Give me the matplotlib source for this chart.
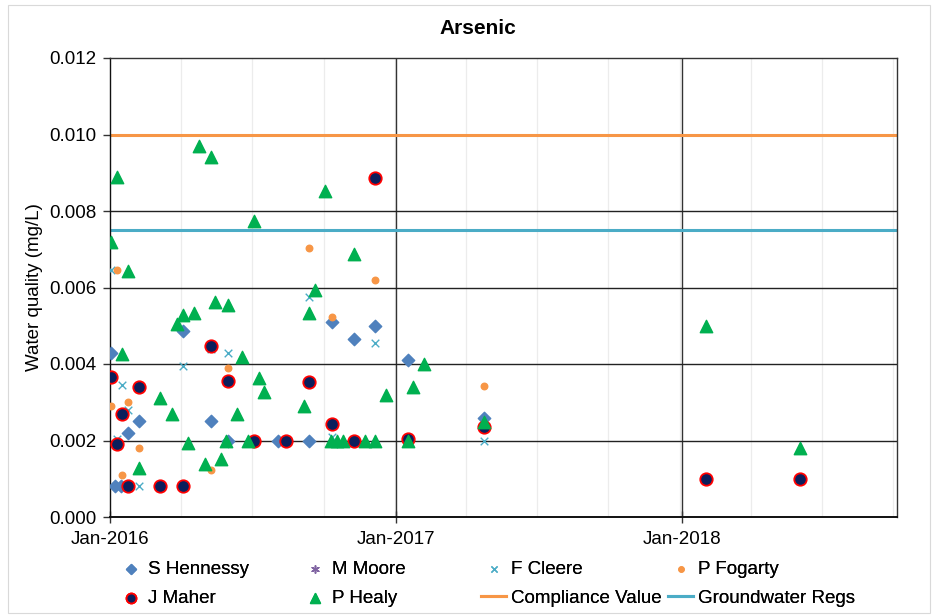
"""
Arsenic results by sampling location, with the compliance value and the
groundwater regulation limit drawn across the whole period.
"""

import matplotlib

matplotlib.use("Agg")
import matplotlib.dates as mdates  # noqa: E402
import matplotlib.pyplot as plt  # noqa: E402
import numpy as np  # noqa: E402
from matplotlib.patches import Rectangle  # noqa: E402

plt.rcParams["font.family"] = ["Liberation Sans", "DejaVu Sans"]

# --------------------------------------------------------------------------- #
# Data (mg/L)
# --------------------------------------------------------------------------- #
hennessy_dates = ["2016-01-02", "2016-01-07", "2016-01-15", "2016-01-24",
                  "2016-02-07", "2016-04-03", "2016-05-09", "2016-05-31",
                  "2016-08-03", "2016-09-11", "2016-10-11", "2016-11-08",
                  "2016-12-05", "2017-01-16", "2017-04-23"]
hennessy_vals = [0.0043, 0.0008, 0.0008, 0.0022, 0.0025, 0.00485, 0.0025,
                 0.002, 0.002, 0.002, 0.0051, 0.00465, 0.005, 0.0041, 0.0026]

moore_dates = []
moore_vals = []

cleere_dates = ["2016-01-02", "2016-01-10", "2016-01-16", "2016-01-24",
                "2016-02-07", "2016-04-03", "2016-05-09", "2016-05-31",
                "2016-09-11", "2016-10-11", "2016-12-05", "2017-04-23"]
cleere_vals = [0.00645, 0.00205, 0.00345, 0.0028, 0.0008, 0.00395, 0.0044,
               0.0043, 0.00575, 0.0021, 0.00455, 0.002]

fogarty_dates = ["2016-01-02", "2016-01-10", "2016-01-16", "2016-01-24",
                 "2016-02-07", "2016-05-09", "2016-05-31", "2016-09-11",
                 "2016-10-11", "2016-12-05", "2017-04-23"]
fogarty_vals = [0.0029, 0.00645, 0.0011, 0.003, 0.0018, 0.00123, 0.0039,
                0.00703, 0.00523, 0.0062, 0.00342]

maher_dates = ["2016-01-02", "2016-01-10", "2016-01-16", "2016-01-24",
               "2016-02-07", "2016-03-05", "2016-04-03", "2016-05-09",
               "2016-05-31", "2016-07-03", "2016-08-13", "2016-09-11",
               "2016-10-11", "2016-11-08", "2016-12-05", "2017-01-16",
               "2017-04-23", "2018-02-01", "2018-06-01"]
maher_vals = [0.00366, 0.0019, 0.0027, 0.0008, 0.0034, 0.0008, 0.0008,
              0.00447, 0.00356, 0.002, 0.002, 0.00353, 0.00243, 0.002,
              0.00886, 0.00205, 0.00235, 0.001, 0.001]

healy_dates = ["2016-01-02", "2016-01-10", "2016-01-16", "2016-01-24",
               "2016-02-07", "2016-03-05", "2016-03-20", "2016-03-27",
               "2016-04-03", "2016-04-10", "2016-04-17", "2016-04-24",
               "2016-05-01", "2016-05-09", "2016-05-14", "2016-05-22",
               "2016-05-28", "2016-05-31", "2016-06-11", "2016-06-18",
               "2016-06-25", "2016-07-03", "2016-07-09", "2016-07-16",
               "2016-09-05", "2016-09-11", "2016-09-19", "2016-10-02",
               "2016-10-10", "2016-10-17", "2016-10-25", "2016-11-08",
               "2016-11-22", "2016-12-05", "2016-12-19", "2017-01-16",
               "2017-01-22", "2017-02-05", "2017-04-23", "2018-02-01",
               "2018-06-01"]
healy_vals = [0.0072, 0.0089, 0.00426, 0.00643, 0.00128, 0.00311, 0.00269,
              0.00505, 0.00528, 0.00193, 0.00533, 0.0097, 0.00139, 0.0094,
              0.00562, 0.00152, 0.002, 0.00554, 0.00269, 0.00418, 0.002,
              0.00774, 0.00363, 0.00327, 0.0029, 0.00533, 0.00593, 0.00852,
              0.002, 0.002, 0.002, 0.00688, 0.002, 0.002, 0.0032, 0.002,
              0.0034, 0.004, 0.00248, 0.005, 0.0018]

compliance_value = 0.010
groundwater_regs = 0.0075

x_start, x_end = "2016-01-01", "2018-10-03"
year_ticks = ["2016-01-01", "2017-01-01", "2018-01-01"]


def d(dates):
    return np.array(dates, dtype="datetime64[D]")


fig = plt.figure(figsize=(9.4, 6.16), dpi=100)
fig.patches.append(Rectangle((8 / 940, 3 / 616), 922 / 940, 608 / 616,
                             transform=fig.transFigure, fill=False,
                             edgecolor="#d9d9d9", linewidth=0.8))
ax = fig.add_axes([110 / 940, 99 / 616, 787 / 940, 459 / 616])

# gridlines: faint quarterly, dark yearly and every 0.002
quarters = np.arange(np.datetime64(x_start), np.datetime64(x_end),
                     np.timedelta64(91, "D"))
for q in quarters[1:]:
    ax.axvline(q, color="#ececec", linewidth=0.9, zorder=0)
for yt in year_ticks[1:]:
    ax.axvline(np.datetime64(yt), color="#333333", linewidth=1.0, zorder=1)
for yv in np.arange(0.002, 0.012, 0.002):
    ax.axhline(yv, color="#222222", linewidth=1.0, zorder=1)

ax.axhline(compliance_value, color="#f79646", linewidth=2.2, zorder=2,
           label="Compliance Value")
ax.axhline(groundwater_regs, color="#4bacc6", linewidth=2.2, zorder=2,
           label="Groundwater Regs")

sc = {}
sc["S Hennessy"] = ax.scatter(d(hennessy_dates), hennessy_vals, marker="D",
                              s=40, color="#4f81bd", zorder=3)
sc["M Moore"] = ax.scatter(d(moore_dates), moore_vals, marker=(6, 2, 0),
                           s=45, color="#8064a2", linewidths=1.0, zorder=3)
sc["F Cleere"] = ax.scatter(d(cleere_dates), cleere_vals, marker="x", s=30,
                            color="#4bacc6", linewidths=1.0, zorder=3)
sc["P Fogarty"] = ax.scatter(d(fogarty_dates), fogarty_vals, marker="o",
                             s=22, color="#f79646", zorder=3)
sc["J Maher"] = ax.scatter(d(maher_dates), maher_vals, marker="o", s=80,
                           facecolor="#0b1f5c", edgecolor="#ff0000",
                           linewidths=1.3, zorder=4)
sc["P Healy"] = ax.scatter(d(healy_dates), healy_vals, marker="^", s=80,
                           color="#00b050", zorder=5)

ax.set_xlim(np.datetime64(x_start), np.datetime64(x_end))
ax.set_ylim(0, 0.012)
ax.set_xticks(d(year_ticks))
ax.xaxis.set_major_formatter(mdates.DateFormatter("%b-%Y"))
ax.set_yticks(np.arange(0, 0.0121, 0.002))
ax.yaxis.set_major_formatter(plt.FormatStrFormatter("%.3f"))
ax.tick_params(axis="both", labelsize=13.5, length=5, width=1.0,
               color="#333333", pad=5)
ax.tick_params(axis="x", direction="inout", length=8, pad=6)
for sp in ax.spines.values():
    sp.set_color("#333333")
    sp.set_linewidth(1.0)
ax.spines["left"].set_color("#111111")
ax.spines["bottom"].set_color("#111111")
ax.spines["bottom"].set_linewidth(1.4)

ax.set_ylabel("Water quality (mg/L)", fontsize=13.5, labelpad=4)
fig.text(478 / 940, 1 - 29 / 616, "Arsenic", fontsize=15, fontweight="bold",
         ha="center", va="center")

# legend: four columns of two entries each, spaced evenly under the plot
lines = {ln.get_label(): ln for ln in ax.get_lines()}
columns = [
    (["S Hennessy", "J Maher"], 118),
    (["M Moore", "P Healy"], 302),
    (["F Cleere", "Compliance Value"], 481),
    (["P Fogarty", "Groundwater Regs"], 668),
]
for labels, x0 in columns:
    handles = [sc.get(lb, lines.get(lb)) for lb in labels]
    leg = fig.legend(handles, labels, loc="upper left",
                     bbox_to_anchor=(x0 / 940, 1 - 561 / 616),
                     frameon=False, fontsize=13.5, handlelength=1.35,
                     handletextpad=0.25, labelspacing=0.62,
                     borderpad=0.0, borderaxespad=0.0, markerscale=0.8)
    fig.add_artist(leg)

fig.savefig("out.png", dpi=100)
